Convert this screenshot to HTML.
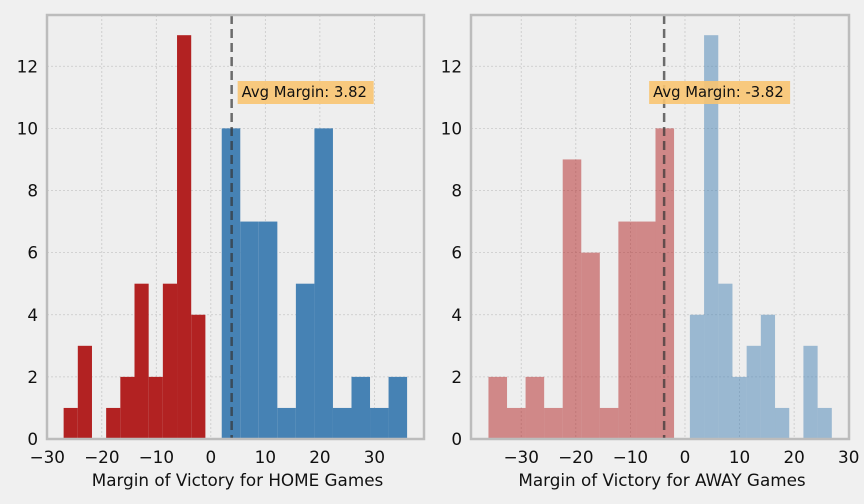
<!DOCTYPE html>
<html><head><meta charset="utf-8"><style>
body{margin:0;background:#f0f0f0;font-family:"DejaVu Sans","Liberation Sans",sans-serif}
svg{display:block}
</style></head><body>
<svg id="c" width="864" height="504"></svg>
<script>
const homeRedStart=-27, homeRedWidth=2.6;
const homeRedCounts=[1,3,0,1,2,5,2,5,13,4];
const homeBlueStart=2, homeBlueWidth=3.4;
const homeBlueCounts=[10,7,7,1,5,10,1,2,1,2];
const awayRedStart=-36, awayRedWidth=3.4;
const awayRedCounts=[2,1,2,1,9,6,1,7,7,10];
const awayBlueStart=0.9, awayBlueWidth=2.6;
const awayBlueCounts=[4,13,5,2,3,4,1,0,3,1];
const homeAvg=3.82, awayAvg=-3.82;
const leftXTicks=[-30,-20,-10,0,10,20,30];
const rightXTicks=[-30,-20,-10,0,10,20,30];
const yTicks=[0,2,4,6,8,10,12];

const svg=document.getElementById('c');
const NS='http://www.w3.org/2000/svg';
function mk(t,a,p){const e=document.createElementNS(NS,t);for(const k in a)e.setAttribute(k,a[k]);(p||svg).appendChild(e);return e;}

function panel(id,x0,x1,xmin,xmax,reds,rs,rw,blues,bs,bw,alpha,avg,label,labelOffset,boxW,xlabel,xt){
  const y0=15,y1=439,ymax=13.65;
  const g=mk('g',{});
  
  
  const X=v=>x0+(v-xmin)/(xmax-xmin)*(x1-x0);
  const Y=v=>y1-v/ymax*(y1-y0);
  mk('rect',{x:x0,y:y0,width:x1-x0,height:y1-y0,fill:'#eeeeee'},g);
  xt.forEach(t=>{const l=mk('line',{x1:X(t),x2:X(t),y1:y0,y2:y1,stroke:'#c8c8c8','stroke-width':0.8,'stroke-dasharray':'2,2'},g);
    });
  yTicks.forEach(t=>{const l=mk('line',{x1:x0,x2:x1,y1:Y(t),y2:Y(t),stroke:'#c8c8c8','stroke-width':0.8,'stroke-dasharray':'2,2'},g);
    });
  reds.forEach((c,i)=>{if(!c)return;const r=mk('rect',{x:X(rs+i*rw),width:X(rs+(i+1)*rw)-X(rs+i*rw),y:Y(c),height:Y(0)-Y(c),fill:'#b22222','fill-opacity':alpha},g);
    });
  blues.forEach((c,i)=>{if(!c)return;const r=mk('rect',{x:X(bs+i*bw),width:X(bs+(i+1)*bw)-X(bs+i*bw),y:Y(c),height:Y(0)-Y(c),fill:'#4682b4','fill-opacity':alpha},g);
    });
  const al=mk('line',{x1:X(avg),x2:X(avg),y1:y0,y2:y1,stroke:'#333','stroke-opacity':0.7,'stroke-width':2.5,'stroke-dasharray':'9,5'},g);
  
  const bx=X(avg)+labelOffset;
  mk('rect',{x:bx,y:81,width:boxW,height:23,fill:'#f8c471','fill-opacity':0.9},g);
  const t=mk('text',{x:bx+4,y:97,'font-size':14.8,fill:'#111'},g);t.textContent=label;
  
  mk('rect',{x:x0,y:y0,width:x1-x0,height:y1-y0,fill:'none',stroke:'#bcbcbc','stroke-width':2.5},g);
  xt.forEach(v=>{const e=mk('text',{x:X(v),y:463,'font-size':16.8,'text-anchor':'middle',fill:'#111'},g);e.textContent=String(v).replace('-','\u2212');
    });
  yTicks.forEach(v=>{const e=mk('text',{x:x0-9,y:Y(v)+6,'font-size':16.8,'text-anchor':'end',fill:'#111'},g);e.textContent=v;
    });
  const xl=mk('text',{x:(x0+x1)/2+2,y:486,'font-size':16.8,'text-anchor':'middle',fill:'#111'},g);xl.textContent=xlabel;
  
}
panel('home',47,424,-30.05,39.1,homeRedCounts,homeRedStart,homeRedWidth,homeBlueCounts,homeBlueStart,homeBlueWidth,1,homeAvg,'Avg Margin: 3.82',6,136,'Margin of Victory for HOME Games',leftXTicks);
panel('away',471,849,-39.2,30.05,awayRedCounts,awayRedStart,awayRedWidth,awayBlueCounts,awayBlueStart,awayBlueWidth,0.5,awayAvg,'Avg Margin: -3.82',-15,141,'Margin of Victory for AWAY Games',rightXTicks);
</script>
</body></html>
